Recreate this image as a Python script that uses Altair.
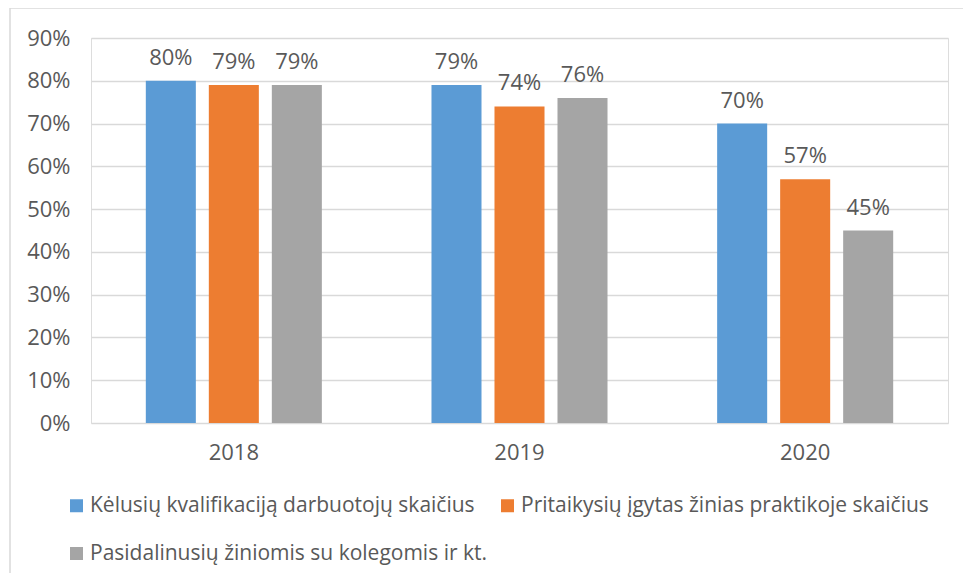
import altair as alt
import pandas as pd

years = ["2018", "2019", "2020"]
series = [
    "Kėlusių kvalifikaciją darbuotojų skaičius",
    "Pritaikysių įgytas žinias praktikoje skaičius",
    "Pasidalinusių žiniomis su kolegomis ir kt.",
]
values = {
    series[0]: [0.80, 0.79, 0.70],
    series[1]: [0.79, 0.74, 0.57],
    series[2]: [0.79, 0.76, 0.45],
}
colors = ["#5B9BD5", "#ED7D31", "#A5A5A5"]

rows = []
for s in series:
    for y, v in zip(years, values[s]):
        rows.append({"year": y, "series": s, "value": v})
df = pd.DataFrame(rows)

FONT = "Open Sans"
TXT = "#595959"

x = alt.X("year:N", sort=years, title=None,
          scale=alt.Scale(paddingInner=0, paddingOuter=0),
          axis=alt.Axis(labelFontSize=22, labelColor=TXT, labelPadding=19, ticks=False,
                        domain=False, labelAngle=0, labelFont=FONT))
xo = alt.XOffset("series:N", sort=series,
                 scale=alt.Scale(paddingInner=0.206, paddingOuter=0.87))
yenc = alt.Y("value:Q", title=None,
             scale=alt.Scale(domain=[0, 0.9], nice=False),
             axis=alt.Axis(format=".0%", values=[i / 10 for i in range(10)],
                           labelFontSize=22, labelColor=TXT, labelPadding=21,
                           ticks=False, domain=False, gridColor="#D9D9D9",
                           gridWidth=1.5, labelFont=FONT))

bars = alt.Chart(df).mark_bar().encode(
    x=x, xOffset=xo, y=yenc,
    color=alt.Color("series:N", sort=series,
                    scale=alt.Scale(domain=series, range=colors),
                    legend=alt.Legend(title=None, orient="none", legendX=-25, legendY=457,
                                      direction="horizontal",
                                      columns=2, columnPadding=9, rowPadding=26,
                                      symbolType="square", symbolSize=169,
                                      symbolStrokeWidth=0, labelOffset=3,
                                      labelFontSize=21, labelColor=TXT, labelFont=FONT,
                                      labelLimit=500)),
)

labels = alt.Chart(df).mark_text(dy=-16, baseline="alphabetic", fontSize=22,
                                 color=TXT, font=FONT).encode(
    x=x, xOffset=xo, y=yenc,
    text=alt.Text("value:Q", format=".0%"),
)

frame_df = pd.DataFrame({"k": [0]})
frame = alt.Chart(frame_df).mark_rect(fill=None, stroke="#D9D9D9", strokeWidth=1.5,
                                      clip=False).encode(
    x=alt.value(-81), x2=alt.value(920), y=alt.value(-30), y2=alt.value(600))

chart = alt.layer(frame, bars, labels).properties(
    width=857, height=385,
    autosize=alt.AutoSizeParams(type="none"),
    padding={"left": 83, "top": 30, "right": 15, "bottom": 150},
).configure_view(stroke=None).configure(font=FONT)

chart.save("out.html", embed_options={"renderer": "svg", "actions": False})
